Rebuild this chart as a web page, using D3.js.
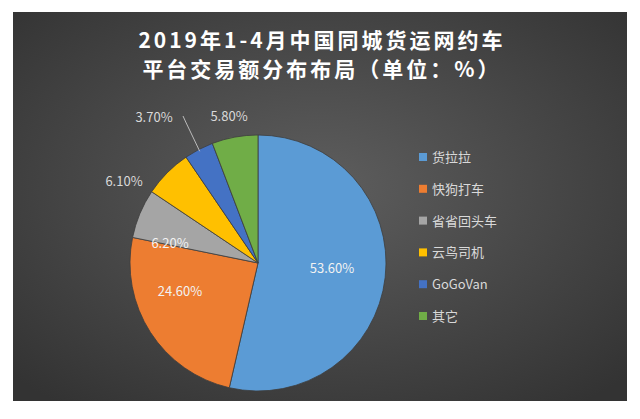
<!DOCTYPE html><html><head><meta charset="utf-8"><script src="https://cdn.jsdelivr.net/npm/d3@7"></script>
<style>body{margin:0;background:#fff}</style></head><body><svg id="c" width="640" height="419"></svg>
<script>
const categories=["货拉拉","快狗打车","省省回头车","云鸟司机","GoGoVan","其它"];
const values=[53.6,24.6,6.2,6.1,3.7,5.8];
const colors=["#5B9BD5","#ED7D31","#A5A5A5","#FFC000","#4472C4","#70AD47"];
const labelPos=[[332,268],[180,291],[170,243],[124,181],[154,117],[229,116]];
const svg=d3.select("#c");
const defs=svg.append("defs");
const g=defs.append("radialGradient").attr("id","bg").attr("cx","50%").attr("cy","45%").attr("r","70%");
g.append("stop").attr("offset","0%").attr("stop-color","#5e5e5e");
g.append("stop").attr("offset","100%").attr("stop-color","#333");
svg.append("rect").attr("x",13).attr("y",12).attr("width",614).attr("height",389).attr("fill","url(#bg)");
const font="'Noto Sans CJK SC','Open Sans',sans-serif";
["2019年1-4月中国同城货运网约车","平台交易额分布布局（单位：%）"].forEach((t,i)=>
 svg.append("text").attr("x",322).attr("y",48+i*29).attr("text-anchor","middle").attr("fill","#fff")
 .attr("font-family",font).attr("font-weight","bold").attr("font-size",21).attr("letter-spacing",3).text(t));
const cx=258,cy=263,r=128;
const pie=d3.pie().sort(null).value(d=>d);
const arcs=pie(values);
const arc=d3.arc().innerRadius(0).outerRadius(r);
const pg=svg.append("g").attr("transform",`translate(${cx},${cy})`);
pg.selectAll("path").data(arcs).join("path").attr("d",arc).attr("fill",(d,i)=>colors[i]).attr("stroke","#3d3d3d").attr("stroke-width",0.8);
const a4=(arcs[4].startAngle+arcs[4].endAngle)/2;
const ex=cx+Math.sin(a4)*(r-2),ey=cy-Math.cos(a4)*(r-2);
svg.append("path").attr("d",`M${ex},${ey} L${ex-14},${122} L${183},${116}`).attr("fill","none").attr("stroke","#bbb").attr("stroke-width",1);
values.forEach((v,i)=>svg.append("text").attr("x",labelPos[i][0]).attr("y",labelPos[i][1]+5).attr("text-anchor","middle")
 .attr("fill",i<3?"#f2f2f2":"#d9d9d9").attr("font-family",font).attr("font-size",13).text(v.toFixed(2)+"%"));
categories.forEach((c,i)=>{const y=157+i*31.8;
 svg.append("rect").attr("x",419).attr("y",y-4).attr("width",8).attr("height",8).attr("fill",colors[i]);
 svg.append("text").attr("x",432).attr("y",y+5).attr("fill","#d9d9d9").attr("font-family",font).attr("font-size",13).text(c);});
</script></body></html>
